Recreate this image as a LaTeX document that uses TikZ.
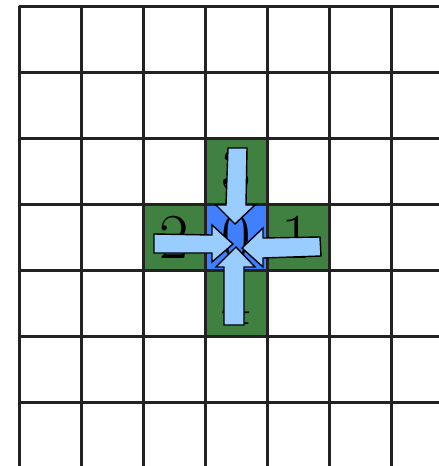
\documentclass[tikz,border=0pt]{standalone}
\begin{document}
\begin{tikzpicture}[x=1pt,y=-1pt]
\definecolor{cellgreen}{RGB}{64,128,64}
\definecolor{cellblue}{RGB}{64,128,255}
\definecolor{arrowfill}{RGB}{153,204,255}
\definecolor{gridline}{RGB}{34,34,34}
\tikzset{
  gridstroke/.style={draw=gridline, line width=3pt},
  blockarrow/.style={fill=arrowfill, draw=black, line width=1.4pt, line join=miter},
  digit/.style={inner sep=0pt, text=black, font=\fontsize{64}{64}\selectfont}
}
\useasboundingbox (0,0) rectangle (439,466);
\fill[white] (0,0) rectangle (439,466);
\clip (0,0) rectangle (439,466);
% coloured cells
\fill[cellgreen] (205,138) rectangle (267,204);
\fill[cellgreen] (143,204) rectangle (205,270);
\fill[cellgreen] (267,204) rectangle (329,270);
\fill[cellgreen] (205,270) rectangle (267,336);
\fill[cellblue] (205,204) rectangle (267,270);
% labels
\node[digit] (n0) at (236,237) {0};
\node[digit] (n1) at (296,237) {1};
\node[digit] (n2) at (174,237) {2};
\node[digit] (n3) at (236,171) {3};
\node[digit] (n4) at (236,303) {4};
% grid
\foreach \x in {19,81,143,205,267,329,391}
  \draw[gridstroke] (\x,6) -- (\x,470);
\foreach \y in {6,72,138,204,270,336,402}
  \draw[gridstroke] (19,\y) -- (443,\y);
% arrows
\draw[blockarrow] (228,148) -- (247,148) -- (246,205) -- (255,205) -- (235,224) -- (216,205) -- (226,205) -- cycle;
\draw[blockarrow] (154,234) -- (212,235) -- (212,225) -- (233,244) -- (212,262) -- (212,253) -- (154,253) -- cycle;
\draw[blockarrow] (320,237) -- (321,256) -- (263,258) -- (263,267) -- (242,248) -- (263,228) -- (263,238) -- cycle;
\draw[blockarrow] (224,325) -- (244,325) -- (244,267) -- (255,267) -- (236,247) -- (216,267) -- (224,267) -- cycle;
\end{tikzpicture}
\end{document}
